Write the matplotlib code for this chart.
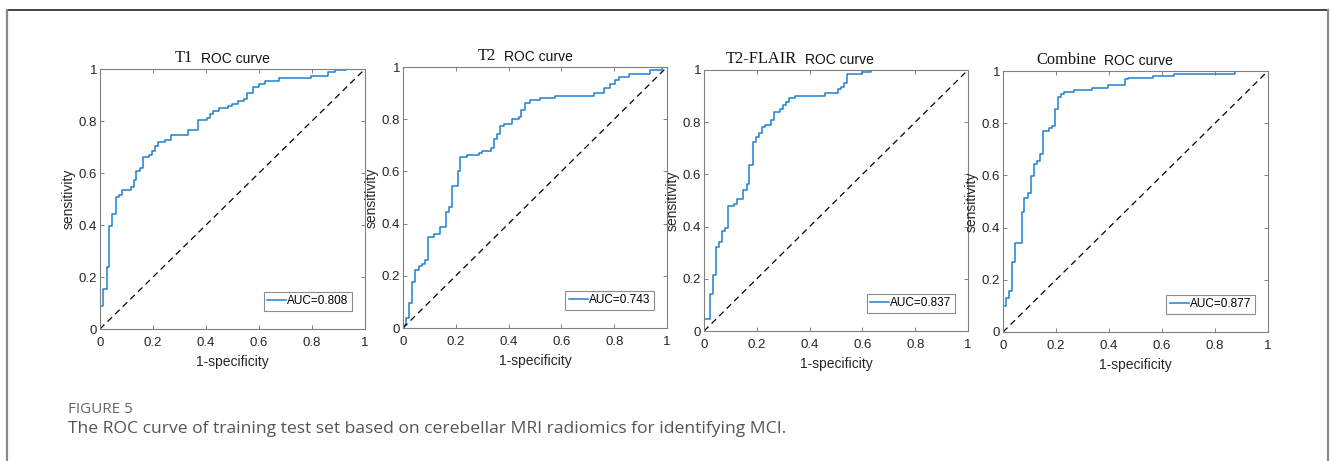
import matplotlib as mpl
mpl.use('Agg')
import matplotlib.pyplot as plt
import numpy as np
from matplotlib import font_manager
from matplotlib.lines import Line2D
from matplotlib.ticker import FuncFormatter

# ROC points (fpr = 1-specificity, tpr = sensitivity)
t1_fpr = [0, 0, 0.011, 0.026, 0.035, 0.046, 0.059, 0.072, 0.082, 0.117, 0.127, 0.137, 0.15, 0.161,
          0.185, 0.197, 0.209, 0.22, 0.244, 0.268, 0.333, 0.369, 0.404, 0.415, 0.428, 0.45, 0.484,
          0.497, 0.52, 0.542, 0.556, 0.579, 0.601, 0.623, 0.677, 0.797, 0.86, 0.885, 0.93, 1.0]
t1_tpr = [0, 0.09, 0.155, 0.239, 0.396, 0.441, 0.506, 0.516, 0.535, 0.545, 0.572, 0.609, 0.619, 0.662,
          0.671, 0.686, 0.703, 0.72, 0.728, 0.746, 0.765, 0.803, 0.81, 0.826, 0.839, 0.849, 0.858,
          0.867, 0.877, 0.886, 0.906, 0.932, 0.942, 0.952, 0.965, 0.974, 0.987, 0.996, 1.0, 1.0]

t2_fpr = [0, 0.005, 0.013, 0.024, 0.035, 0.047, 0.06, 0.072, 0.085, 0.093, 0.116, 0.139, 0.163, 0.173,
          0.186, 0.208, 0.217, 0.242, 0.289, 0.30, 0.335, 0.345, 0.356, 0.369, 0.381, 0.414, 0.438,
          0.448, 0.461, 0.482, 0.52, 0.577, 0.722, 0.76, 0.785, 0.804, 0.82, 0.855, 0.934, 0.98, 1.0]
t2_tpr = [0, 0.013, 0.04, 0.095, 0.178, 0.223, 0.236, 0.245, 0.26, 0.35, 0.36, 0.388, 0.446, 0.462,
          0.544, 0.60, 0.656, 0.662, 0.671, 0.68, 0.69, 0.726, 0.745, 0.773, 0.783, 0.80, 0.81,
          0.837, 0.862, 0.873, 0.882, 0.889, 0.90, 0.92, 0.936, 0.949, 0.96, 0.972, 0.987, 1.0, 1.0]

flair_fpr = [0, 0, 0.023, 0.035, 0.045, 0.058, 0.069, 0.079, 0.091, 0.113, 0.126, 0.149, 0.161, 0.172,
             0.184, 0.196, 0.208, 0.218, 0.231, 0.253, 0.265, 0.288, 0.299, 0.31, 0.323, 0.343, 0.46,
             0.507, 0.518, 0.53, 0.542, 0.60, 0.634, 1.0]
flair_tpr = [0, 0.047, 0.14, 0.214, 0.32, 0.34, 0.385, 0.396, 0.478, 0.488, 0.507, 0.542, 0.562, 0.635,
             0.725, 0.744, 0.76, 0.78, 0.79, 0.808, 0.838, 0.849, 0.864, 0.876, 0.891, 0.90, 0.91,
             0.926, 0.936, 0.949, 0.985, 0.994, 1.0, 1.0]

comb_fpr = [0, 0, 0.01, 0.024, 0.035, 0.047, 0.07, 0.081, 0.094, 0.105, 0.116, 0.128, 0.14, 0.151,
            0.172, 0.185, 0.197, 0.208, 0.218, 0.23, 0.268, 0.335, 0.395, 0.46, 0.47, 0.566, 0.647,
            0.874, 1.0]
comb_tpr = [0, 0.101, 0.129, 0.158, 0.267, 0.341, 0.459, 0.514, 0.533, 0.597, 0.642, 0.654, 0.681, 0.772,
            0.781, 0.79, 0.853, 0.90, 0.91, 0.919, 0.926, 0.936, 0.946, 0.968, 0.974, 0.981, 0.988,
            1.0, 1.0]

names = ['T1', 'T2', 'T2-FLAIR', 'Combine']
aucs = [0.808, 0.743, 0.837, 0.877]
fprs = [t1_fpr, t2_fpr, flair_fpr, comb_fpr]
tprs = [t1_tpr, t2_tpr, flair_tpr, comb_tpr]
ticks = [0, 0.2, 0.4, 0.6, 0.8, 1]

caption_head = 'FIGURE 5'
caption = 'The ROC curve of training test set based on cerebellar MRI radiomics for identifying MCI.'

installed = {f.name for f in font_manager.fontManager.ttflist}
narrow = 'Liberation Sans Narrow' if 'Liberation Sans Narrow' in installed else 'Liberation Sans'
plt.rcParams['font.family'] = narrow

W, H = 1330, 461
fig = plt.figure(figsize=(W / 100, H / 100), dpi=100)
fig.patch.set_facecolor('white')

# axes boxes in pixels: left, right, top, bottom
boxes = [(100, 365, 69, 329), (403, 667, 67, 328), (704, 968, 70, 331), (1003, 1268, 71, 332)]

for i in range(4):
    l, r, t, b = boxes[i]
    pw, ph = r - l, b - t
    ax = fig.add_axes([l / W, (H - b) / H, pw / W, ph / H])
    ax.plot(fprs[i], tprs[i], drawstyle='steps-post', color='#1f80d0', lw=1.1,
            label='AUC=%.3f' % aucs[i])
    ax.plot([0, 1], [0, 1], color='black', ls='--', lw=0.9, dashes=(5, 3.5))
    ax.set_xlim(0, 1)
    ax.set_ylim(0, 1)
    ax.set_xticks(ticks)
    ax.set_yticks(ticks)
    fmt = FuncFormatter(lambda v, p: '%g' % round(v, 1))
    ax.xaxis.set_major_formatter(fmt)
    ax.yaxis.set_major_formatter(fmt)
    ax.tick_params(direction='in', length=3, width=0.7, top=True, right=True,
                   color='#808080', labelcolor='#262626', labelsize=9.5)
    ax.tick_params(axis='x', pad=6)
    ax.tick_params(axis='y', pad=2)
    for s in ax.spines.values():
        s.set_color('#808080')
        s.set_linewidth(0.8)

    ax.set_xlabel('1-specificity', fontsize=10, family='Liberation Sans', color='#262626')
    ax.set_ylabel('sensitivity', fontsize=10, family='Liberation Sans', color='#262626')
    ax.xaxis.set_label_coords(0.5, -26 / ph)
    ax.yaxis.set_label_coords(-24 / pw, 0.5)

    # title: serif prefix + sans "ROC curve"
    ax.text(93 / pw, 1 + 7 / ph, names[i], transform=ax.transAxes, ha='right', va='baseline',
            fontsize=11.8, family='Liberation Serif', color='#111111')
    ax.text(101 / pw, 1 + 6 / ph, 'ROC curve', transform=ax.transAxes, ha='left', va='baseline',
            fontsize=10, family=narrow, color='#111111')

    leg = ax.legend(loc='lower right', bbox_to_anchor=(1 - 13 / pw, 18 / ph), borderaxespad=0,
                    fancybox=False, edgecolor='#8c8c8c', framealpha=1, handlelength=1.6,
                    handletextpad=0.1, borderpad=0.3, prop={'family': narrow, 'size': 8.5})
    leg.get_frame().set_linewidth(0.8)

# outer frame of the figure panel
fig.add_artist(Line2D([7 / W, 1328 / W], [1 - 10 / H, 1 - 10 / H], color='#222222', lw=1.2))
fig.add_artist(Line2D([7 / W, 7 / W], [0, 1 - 10 / H], color='#8a8a8a', lw=1.6))
fig.add_artist(Line2D([1328 / W, 1328 / W], [0, 1 - 10 / H], color='#8a8a8a', lw=1.6))

fig.text(68 / W, 1 - 409 / H, caption_head, va='center', fontsize=11, color='#666666',
         family='Open Sans')
fig.text(68 / W, 1 - 429 / H, caption, va='center', fontsize=12.6, color='#555555',
         family='Open Sans')

fig.savefig('out.png', dpi=100)
